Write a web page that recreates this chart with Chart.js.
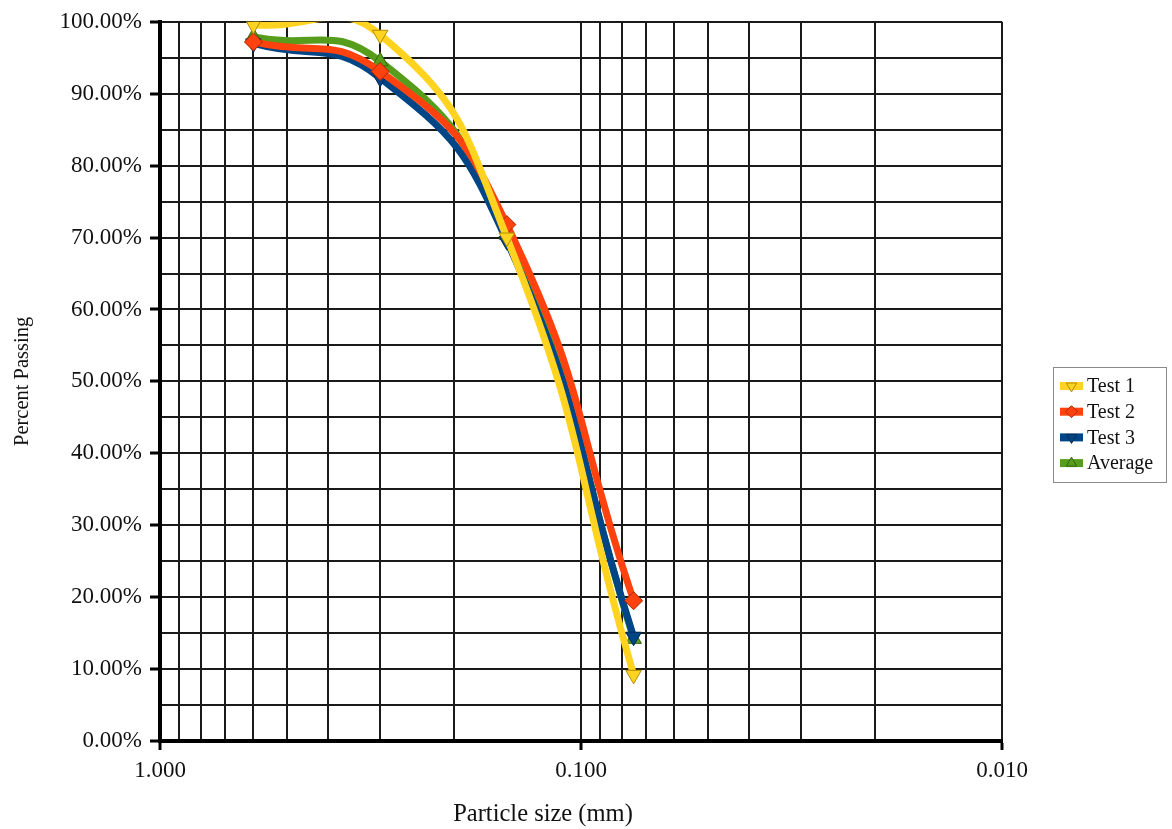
<!DOCTYPE html>
<html lang="en">
<head>
    <meta charset="UTF-8">
    <title>Particle Size Distribution</title>
    <script src="https://cdn.jsdelivr.net/npm/chart.js"></script>
    <style>
        body {
            margin: 0;
            background-color: white;
        }
        #wrap {
            width: 1172px;
            height: 829px;
        }
    </style>
</head>
<body>
    <div id="wrap">
        <canvas id="psdChart" width="1172" height="829"></canvas>
    </div>
    <script>
        // sieve sizes (mm) and percent passing
        const sizes = [0.6, 0.3, 0.15, 0.075];
        const test1 = [99.6, 98.2, 70.0, 9.2];
        const test2 = [97.2, 93.1, 71.8, 19.5];
        const test3 = [97.0, 92.2, 69.5, 14.5];
        const average = [97.9, 94.5, 70.4, 14.2];

        const xMajorTicks = [1, 0.1, 0.01];
        const xTickLabels = ["1.000", "0.100", "0.010"];
        const yTickValues = [0, 10, 20, 30, 40, 50, 60, 70, 80, 90, 100];
        const yTickLabels = ["0.00%", "10.00%", "20.00%", "30.00%", "40.00%", "50.00%",
                             "60.00%", "70.00%", "80.00%", "90.00%", "100.00%"];

        const xTitle = "Particle size (mm)";
        const yTitle = "Percent Passing";

        const serif = "'Liberation Serif', 'Times New Roman', serif";

        function majorIndex(v) {
            return xMajorTicks.findIndex(m => Math.abs(m - v) < 1e-9);
        }

        function makeSeries(label, values, color, edge, style, rot) {
            return {
                label: label,
                data: sizes.map((s, i) => ({ x: s, y: values[i] })),
                borderColor: color,
                backgroundColor: color,
                borderWidth: 7,
                tension: 0.5,
                pointStyle: style,
                rotation: rot,
                pointRadius: 9,
                pointHoverRadius: 9,
                pointBackgroundColor: color,
                pointBorderColor: edge,
                pointBorderWidth: 1
            };
        }

        function drawMarker(ctx, ds, x, y, r) {
            if (Chart.helpers && Chart.helpers.drawPoint) {
                ctx.fillStyle = ds.pointBackgroundColor;
                ctx.strokeStyle = ds.pointBorderColor;
                ctx.lineWidth = 1;
                Chart.helpers.drawPoint(ctx, { pointStyle: ds.pointStyle, rotation: ds.rotation, radius: r, borderWidth: 1 }, x, y);
            }
        }

        // legend box with line + marker samples, and the x title (sits left of plot centre in the original)
        const boxLegend = {
            id: "boxLegend",
            afterDraw(chart) {
                const ctx = chart.ctx;
                const left = 1053, top = 367, w = 113, h = 115;
                ctx.save();
                ctx.strokeStyle = "#8a8a8a";
                ctx.lineWidth = 1;
                ctx.strokeRect(left + 0.5, top + 0.5, w, h);
                ctx.font = "20px " + serif;
                ctx.textBaseline = "middle";
                chart.data.datasets.forEach((ds, i) => {
                    const y = top + 19 + i * 25.7;
                    ctx.fillStyle = ds.borderColor;
                    ctx.fillRect(left + 7, y - 4, 23, 8);
                    drawMarker(ctx, ds, left + 18.5, y, 6);
                    ctx.fillStyle = "#111";
                    ctx.fillText(ds.label, left + 34, y + 1);
                });

                ctx.font = "24.5px " + serif;
                ctx.textAlign = "center";
                ctx.fillStyle = "#111";
                ctx.fillText(xTitle, 543, 815);
                ctx.restore();
            }
        };

        const ctx = document.getElementById("psdChart").getContext("2d");
        new Chart(ctx, {
            type: "line",
            data: {
                datasets: [
                    makeSeries("Test 1", test1, "#ffd320", "#b08e00", "triangle", 180),
                    makeSeries("Test 2", test2, "#ff420e", "#a82800", "rectRot", 0),
                    makeSeries("Test 3", test3, "#004586", "#002a55", "triangle", 180),
                    makeSeries("Average", average, "#579d1c", "#35650e", "triangle", 0)
                ]
            },
            options: {
                responsive: false,
                animation: false,
                events: [],
                elements: {
                    line: { capBezierPoints: false }
                },
                layout: {
                    padding: { top: 20, right: 170, bottom: 0, left: 0 }
                },
                plugins: {
                    legend: { display: false },
                    tooltip: { enabled: false }
                },
                scales: {
                    x: {
                        type: "logarithmic",
                        reverse: true,
                        min: 0.01,
                        max: 1,
                        afterBuildTicks(scale) {
                            const vals = [];
                            [1, 0.1].forEach(d => {
                                for (let k = 10; k >= 1; k--) vals.push(+(d * k / 10).toFixed(4));
                            });
                            scale.ticks = vals.filter((v, i, a) => a.indexOf(v) === i).map(v => ({ value: v }));
                        },
                        afterFit(scale) {
                            scale.height = 88;
                        },
                        ticks: {
                            autoSkip: false,
                            maxRotation: 0,
                            padding: 7,
                            color: "#111",
                            font: { family: serif, size: 23 },
                            callback: v => {
                                const i = majorIndex(v);
                                return i >= 0 ? xTickLabels[i] : "";
                            }
                        },
                        grid: {
                            color: "#1a1a1a",
                            lineWidth: 2,
                            tickLength: 9,
                            tickWidth: 3,
                            tickColor: c => (c.tick && majorIndex(c.tick.value) >= 0) ? "#000" : "rgba(0,0,0,0)"
                        },
                        border: { color: "#000", width: 4 },
                        title: { display: false }
                    },
                    y: {
                        min: 0,
                        max: 100,
                        afterFit(scale) {
                            scale.width = 160;
                        },
                        ticks: {
                            stepSize: 5,
                            autoSkip: false,
                            padding: 8,
                            color: "#111",
                            font: { family: serif, size: 23 },
                            callback: v => {
                                const i = yTickValues.indexOf(v);
                                return i >= 0 ? yTickLabels[i] : "";
                            }
                        },
                        grid: {
                            color: "#1a1a1a",
                            lineWidth: 2,
                            tickLength: 10,
                            tickWidth: 3,
                            tickColor: c => (c.tick && yTickValues.indexOf(c.tick.value) >= 0) ? "#000" : "rgba(0,0,0,0)"
                        },
                        border: { color: "#000", width: 4 },
                        title: {
                            display: true,
                            text: yTitle,
                            color: "#111",
                            font: { family: serif, size: 20.5 },
                            padding: { top: 10, bottom: 0 }
                        }
                    }
                }
            },
            plugins: [boxLegend]
        });
    </script>
</body>
</html>
